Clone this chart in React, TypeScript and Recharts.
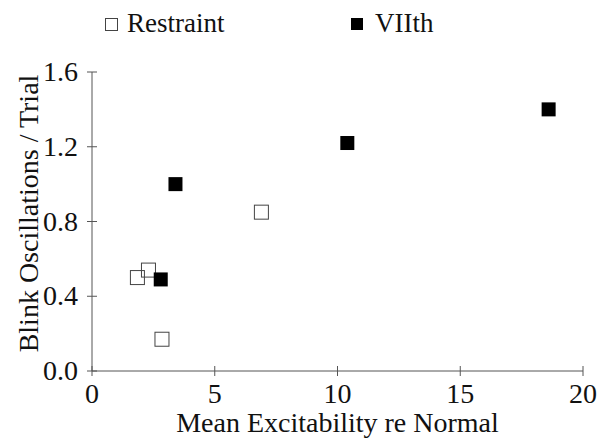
import { ScatterChart, Scatter, XAxis, YAxis, Label } from "recharts";

// Restraint group (open squares)
const restraintX = [1.85, 2.3, 2.85, 6.9];
const restraintY = [0.5, 0.54, 0.17, 0.85];
// VIIth group (filled squares)
const seventhX = [2.8, 3.4, 10.4, 18.6];
const seventhY = [0.49, 1.0, 1.22, 1.4];

const xTicks = [0, 5, 10, 15, 20];
const yTicks = [0, 0.4, 0.8, 1.2, 1.6];

const restraint = restraintX.map((x, i) => ({ x, y: restraintY[i] }));
const seventh = seventhX.map((x, i) => ({ x, y: seventhY[i] }));

const FONT = "'Liberation Serif', 'Times New Roman', Times, serif";
const AXIS = "#555";
const INK = "#111";
const txt = { fontFamily: FONT, fontSize: 28, fill: INK };

const XTick = (props: any) => {
  const { x, y, payload } = props;
  return (
    <g>
      <line x1={x} x2={x} y1={y - 5} y2={y + 5} stroke={AXIS} />
      <text x={x} y={y + 32} textAnchor="middle" style={txt}>
        {payload.value}
      </text>
    </g>
  );
};

const YTick = (props: any) => {
  const { x, y, payload } = props;
  return (
    <g>
      <line x1={x - 5} x2={x + 5} y1={y} y2={y} stroke={AXIS} />
      <text x={x - 14} y={y + 9} textAnchor="end" style={txt}>
        {Number(payload.value).toFixed(1)}
      </text>
    </g>
  );
};

const openSquare = (props: any) => (
  <rect x={props.cx - 7} y={props.cy - 7} width={14} height={14} fill="none" stroke="#444" strokeWidth={1} />
);

const filledSquare = (props: any) => (
  <rect x={props.cx - 7} y={props.cy - 7} width={14} height={14} fill="#000" />
);

export default function App() {
  return (
    <div
      style={{
        position: "absolute",
        left: 0,
        top: 0,
        width: 604,
        height: 438,
        background: "#fff",
        fontFamily: FONT,
      }}
    >
      <ScatterChart width={604} height={438} margin={{ top: 72, right: 21, bottom: 0, left: 0 }}>
        <XAxis
          type="number"
          dataKey="x"
          domain={[0, 20]}
          ticks={xTicks}
          height={67}
          tickSize={0}
          tickMargin={0}
          tickLine={false}
          axisLine={{ stroke: AXIS }}
          tick={<XTick />}
        >
          <Label
            content={() => (
              <text x={337.5} y={432} textAnchor="middle" style={txt}>
                Mean Excitability re Normal
              </text>
            )}
          />
        </XAxis>
        <YAxis
          type="number"
          dataKey="y"
          domain={[0, 1.6]}
          ticks={yTicks}
          width={92}
          tickSize={0}
          tickMargin={0}
          tickLine={false}
          axisLine={{ stroke: AXIS }}
          tick={<YTick />}
        >
          <Label
            content={() => (
              <text x={38} y={213.5} transform="rotate(-90 38 213.5)" textAnchor="middle" style={txt}>
                Blink Oscillations / Trial
              </text>
            )}
          />
        </YAxis>
        <Scatter name="Restraint" data={restraint} shape={openSquare} isAnimationActive={false} />
        <Scatter name="VIIth" data={seventh} shape={filledSquare} isAnimationActive={false} />
      </ScatterChart>
      <svg width={604} height={50} style={{ position: "absolute", left: 0, top: 0, pointerEvents: "none" }}>
        <rect x={105.5} y={18.5} width={12} height={12} fill="none" stroke="#444" />
        <text x={127} y={32} style={{ ...txt, fontSize: 27 }}>Restraint</text>
        <rect x={351} y={18} width={12} height={12} fill="#000" />
        <text x={375} y={32} style={{ ...txt, fontSize: 27 }}>VIIth</text>
      </svg>
    </div>
  );
}
